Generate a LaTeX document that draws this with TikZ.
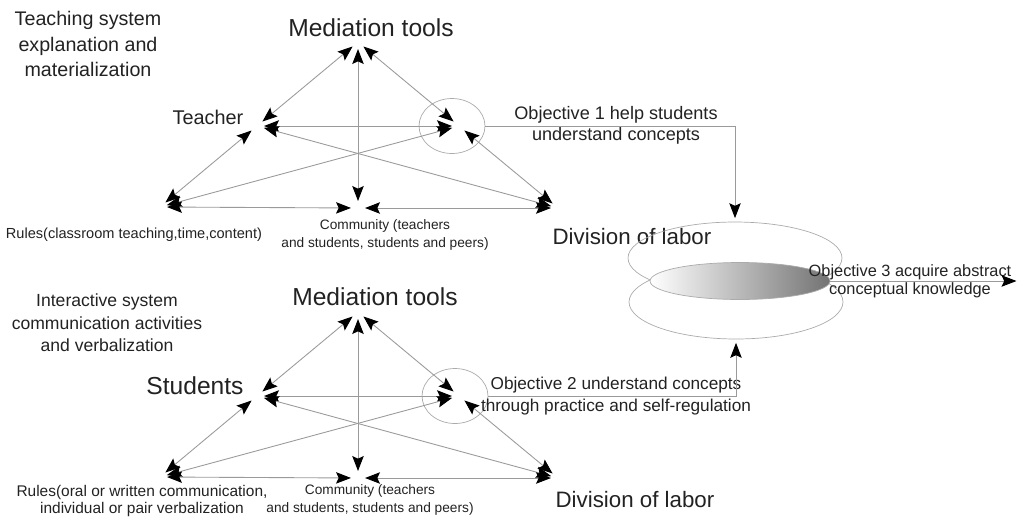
\documentclass[tikz,border=0pt]{standalone}
\usepackage{fontspec}
\setmainfont{Liberation Sans}
\usetikzlibrary{shapes.geometric, positioning, arrows.meta}

\definecolor{txtgray}{HTML}{222222}
\definecolor{linegray}{HTML}{9A9A9A}
\definecolor{ringgray}{HTML}{ABABAB}

\begin{document}
\begin{tikzpicture}[
    x=0.02cm, y=-0.02cm,
    text=txtgray,
    % Styles
    tip/.tip={Stealth[length=8.5pt,width=6.5pt,inset=1.5pt,color=black]},
    link/.style={
        draw=linegray,
        line width=0.5pt,
        tip-tip,
        shorten <=4pt,
        shorten >=4pt
    },
    conn/.style={
        draw=linegray,
        line width=0.5pt,
        -tip,
        shorten >=2pt
    },
    ring/.style={
        draw=ringgray,
        ellipse,
        minimum width=1.32cm,
        minimum height=1.1cm,
        inner sep=0pt
    },
    layer/.style={
        draw=ringgray,
        ellipse,
        minimum width=4.28cm,
        minimum height=1.44cm,
        inner sep=0pt
    },
    bigtxt/.style={font=\fontsize{14}{16}\selectfont},
    roletxt/.style={font=\fontsize{12.7}{15}\selectfont},
    systxt/.style={align=center, font=\fontsize{11.2}{14.7}\selectfont},
    objtxt/.style={align=center, font=\fontsize{10.3}{11.8}\selectfont},
    smalltxt/.style={align=center, font=\fontsize{7.8}{10.5}\selectfont}
]
    \useasboundingbox (0,0) rectangle (1024,525);

    % --- TEACHING SYSTEM ---
    \coordinate (ap1) at (358,42);
    \coordinate (sb1) at (257,126);
    \coordinate (ob1) at (459,126);
    \coordinate (ru1) at (160,207);
    \coordinate (cm1) at (358,208);
    \coordinate (dv1) at (558,208);

    \node[ring] (circ1) at (452,126) {};

    \path (ap1) edge[link] (sb1) edge[link] (ob1) edge[link] (cm1)
          (sb1) edge[link] (ob1) edge[link] (ru1) edge[link] (dv1)
          (ob1) edge[link] (ru1) edge[link] (dv1)
          (cm1) edge[link] (ru1) edge[link] (dv1);

    \node[systxt] (sys1) at (88,44) {Teaching system\\explanation and\\materialization};
    \node[bigtxt] (tool1) at (371,28) {Mediation tools};
    \node[font=\fontsize{11.3}{13}\selectfont] (subj1) at (208,117) {Teacher};
    \node[font=\fontsize{8.3}{10}\selectfont] (rule1) at (134,235) {Rules(classroom teaching,time,content)};
    \node[smalltxt] (comm1) at (385,235) {Community (teachers\\and students, students and peers)};
    \node[roletxt] (labr1) at (632,237) {Division of labor};

    % --- INTERACTIVE SYSTEM ---
    \coordinate (ap2) at (358,312);
    \coordinate (sb2) at (257,396);
    \coordinate (ob2) at (459,396);
    \coordinate (ru2) at (160,477);
    \coordinate (cm2) at (358,478);
    \coordinate (dv2) at (558,478);

    \node[ring] (circ2) at (455,396) {};

    \path (ap2) edge[link] (sb2) edge[link] (ob2) edge[link] (cm2)
          (sb2) edge[link] (ob2) edge[link] (ru2) edge[link] (dv2)
          (ob2) edge[link] (ru2) edge[link] (dv2)
          (cm2) edge[link] (ru2) edge[link] (dv2);

    \node[align=center, font=\fontsize{10}{12.8}\selectfont] (sys2) at (107,323)
        {Interactive system\\communication activities\\and verbalization};
    \node[bigtxt] (tool2) at (375,297) {Mediation tools};
    \node[bigtxt] (subj2) at (195,386) {Students};
    \node[align=center, font=\fontsize{8.8}{10.2}\selectfont] (rule2) at (142,501)
        {Rules(oral or written communication,\\individual or pair verbalization};
    \node[smalltxt] (comm2) at (370,500) {Community (teachers\\and students, students and peers)};
    \node[roletxt] (labr2) at (635,500) {Division of labor};

    % --- OBJECTIVES ---
    \node[layer, minimum height=1.48cm] (ellB) at (736,302) {};
    \node[layer] (ellT) at (735,258) {};
    \node[draw=ringgray, ellipse, minimum width=3.6cm, minimum height=0.74cm, inner sep=0pt,
          shading=axis, left color=white, right color=black!55] (ellM) at (740,281) {};
    \coordinate (o3end) at (1020,281);

    \node[objtxt] (obj1) at (616,125) {Objective 1 help students\\understand concepts};
    \node[align=center, font=\fontsize{9.8}{12.5}\selectfont] (obj2) at (616,396)
        {Objective 2 understand concepts\\through practice and self-regulation};
    \node[align=center, font=\fontsize{9.3}{10.4}\selectfont] (obj3) at (910,281)
        {Objective 3 acquire abstract\\conceptual knowledge};

    % --- ARROWS ---
    \draw[conn] (circ1.east) -| (ellT.north);
    \draw[conn] (circ2.east) -| (ellB.south);
    \draw[conn] (ellM.east) -- (o3end);

\end{tikzpicture}
\end{document}
